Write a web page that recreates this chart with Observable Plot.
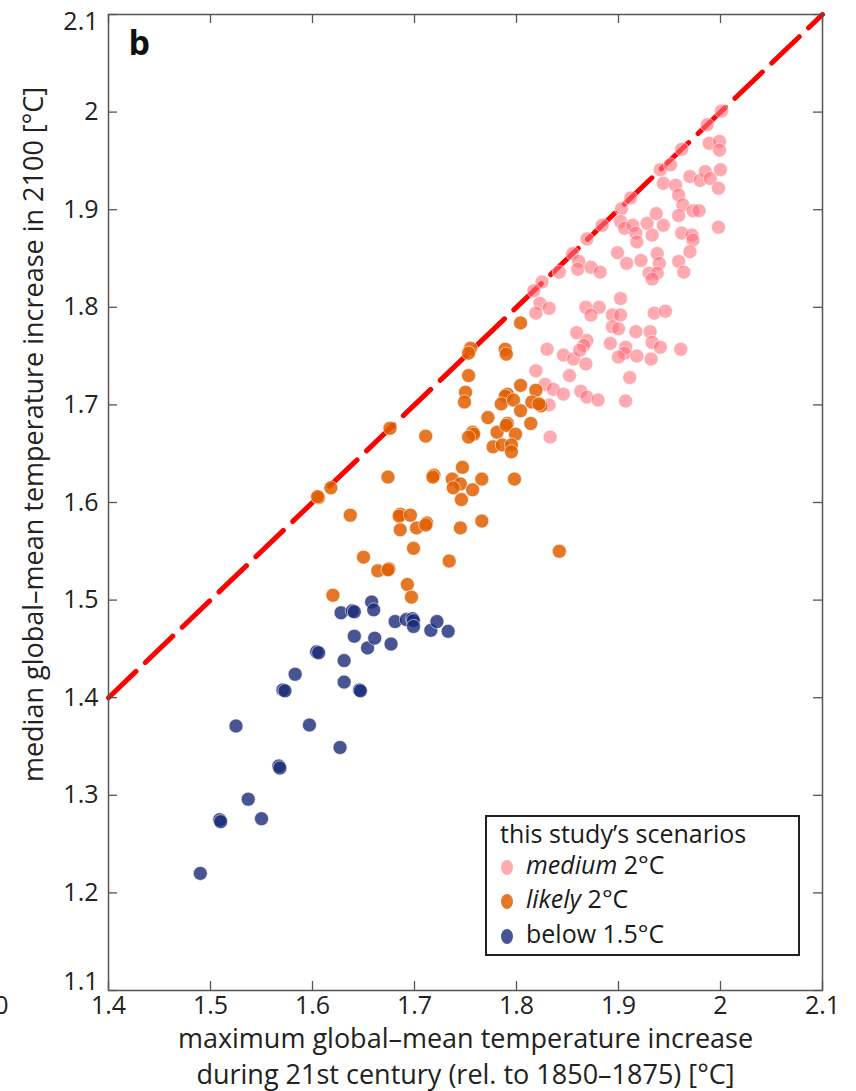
<!DOCTYPE html>
<html>
<head>
<meta charset="utf-8">
<script src="https://cdn.jsdelivr.net/npm/d3@7"></script>
<script src="https://cdn.jsdelivr.net/npm/@observablehq/plot@0.6"></script>
<style>
  html, body { margin: 0; padding: 0; background: #fff; }
  #wrap { position: relative; width: 856px; height: 1091px; overflow: hidden; font-family: "Open Sans", sans-serif; }
  #legend { position: absolute; left: 485px; top: 815px; width: 315px; height: 141px; border: 2px solid #222; background: #fff; color: #1a1a1a; font-size: 25px; line-height: 26px; box-sizing: border-box; }
  #legend .t { position: absolute; left: 13px; top: 3px; white-space: nowrap; }
  #legend .row { position: absolute; left: 14px; white-space: nowrap; }
  #legend .sw { display: inline-block; width: 12px; height: 15px; border-radius: 50%; margin-right: 13px; vertical-align: -1px; }
</style>
</head>
<body>
<div id="wrap"></div>
<script>
// ---- data ----
const xTicks = [1.4, 1.5, 1.6, 1.7, 1.8, 1.9, 2.0, 2.1];
const yTicks = [1.1, 1.2, 1.3, 1.4, 1.5, 1.6, 1.7, 1.8, 1.9, 2.0, 2.1];
const diagonal = [1.4, 2.1];

const below15X = [1.490,1.509,1.510,1.537,1.550,1.525,1.567,1.568,1.597,1.627,1.571,1.573,1.583,1.604,1.606,1.631,1.631,1.646,1.647,1.641,1.654,1.661,1.677,1.628,1.639,1.641,1.658,1.660,1.681,1.692,1.698,1.699,1.699,1.716,1.722,1.733];
const below15Y = [1.220,1.275,1.273,1.296,1.276,1.371,1.330,1.328,1.372,1.349,1.408,1.407,1.424,1.447,1.446,1.438,1.416,1.408,1.407,1.463,1.451,1.461,1.455,1.487,1.489,1.488,1.498,1.490,1.478,1.480,1.481,1.479,1.473,1.469,1.478,1.468];

const likelyX = [1.620,1.693,1.697,1.664,1.675,1.674,1.650,1.734,1.804,1.755,1.753,1.789,1.790,1.753,1.750,1.749,1.804,1.819,1.791,1.789,1.785,1.797,1.804,1.815,1.824,1.822,1.814,1.772,1.757,1.758,1.753,1.781,1.791,1.790,1.799,1.777,1.786,1.795,1.795,1.711,1.676,1.674,1.719,1.718,1.747,1.737,1.745,1.738,1.757,1.766,1.746,1.798,1.618,1.606,1.605,1.637,1.686,1.685,1.696,1.686,1.702,1.712,1.711,1.745,1.766,1.699,1.842];
const likelyY = [1.505,1.516,1.503,1.530,1.532,1.531,1.544,1.540,1.784,1.758,1.753,1.757,1.752,1.730,1.713,1.703,1.720,1.715,1.711,1.709,1.701,1.705,1.694,1.703,1.699,1.701,1.681,1.687,1.672,1.670,1.667,1.672,1.681,1.679,1.670,1.657,1.659,1.659,1.652,1.668,1.676,1.626,1.628,1.626,1.636,1.624,1.619,1.615,1.613,1.624,1.603,1.624,1.615,1.605,1.606,1.587,1.588,1.586,1.587,1.572,1.574,1.579,1.577,1.574,1.581,1.553,1.550];

const mediumX = [2.001,1.987,1.989,1.999,1.999,1.962,1.941,1.951,1.944,1.956,1.959,1.970,1.980,1.985,1.990,2.000,1.998,1.963,1.959,1.973,1.979,1.998,1.912,1.903,1.884,1.902,1.906,1.914,1.917,1.918,1.928,1.937,1.944,1.933,1.962,1.972,1.973,1.970,1.899,1.908,1.922,1.938,1.940,1.930,1.938,1.933,1.959,1.964,1.869,1.855,1.861,1.860,1.873,1.882,1.842,1.825,1.817,1.823,1.832,1.819,1.868,1.881,1.902,1.935,1.946,1.873,1.894,1.902,1.894,1.900,1.859,1.869,1.866,1.830,1.846,1.856,1.862,1.868,1.852,1.892,1.907,1.906,1.900,1.917,1.918,1.931,1.933,1.941,1.932,1.961,1.911,1.907,1.819,1.828,1.836,1.846,1.832,1.863,1.869,1.880,1.833];
const mediumY = [2.001,1.987,1.968,1.970,1.961,1.962,1.941,1.946,1.927,1.925,1.915,1.934,1.930,1.939,1.932,1.941,1.922,1.905,1.894,1.899,1.899,1.882,1.912,1.901,1.884,1.888,1.881,1.884,1.876,1.867,1.886,1.896,1.884,1.874,1.876,1.874,1.869,1.857,1.856,1.845,1.848,1.855,1.845,1.835,1.835,1.829,1.847,1.836,1.870,1.855,1.847,1.839,1.841,1.836,1.836,1.826,1.817,1.804,1.799,1.794,1.800,1.800,1.809,1.794,1.796,1.792,1.792,1.792,1.780,1.778,1.774,1.766,1.761,1.757,1.751,1.747,1.756,1.742,1.730,1.763,1.759,1.753,1.749,1.775,1.750,1.775,1.764,1.759,1.747,1.757,1.728,1.704,1.735,1.721,1.716,1.711,1.700,1.714,1.708,1.705,1.667];

const seriesNames = ["medium 2°C", "likely 2°C", "below 1.5°C"];
const seriesColors = ["#ff6f7c", "#e05f00", "#1c2a78"];
const seriesOpacity = [0.6, 0.85, 0.8];

const xLabel = "maximum global–mean temperature increase\nduring 21st century (rel. to 1850–1875) [°C]";
const yLabel = "median global–mean temperature increase in 2100 [°C]";
const panelLetter = "b";
const legendTitle = "this study’s scenarios";

// ---- build ----
const toPts = (xs, ys) => xs.map((x, i) => ({x, y: ys[i]}));
const groups = [toPts(mediumX, mediumY), toPts(likelyX, likelyY), toPts(below15X, below15Y)];

const W = 856, H = 1091, mL = 108, mR = 34, mT = 14, mB = 101;
const fw = W - mL - mR, fh = H - mT - mB;
const tickLen = 9;
const fmt = d => String(+d.toFixed(1));
const axisColor = "#555";
const tickFont = 25;
const yMid = yTicks.slice(1, -1);

const plot = Plot.plot({
  width: W, height: H,
  marginLeft: mL, marginRight: mR, marginTop: mT, marginBottom: mB,
  x: {domain: [1.4, 2.1]},
  y: {domain: [1.1, 2.1]},
  style: {fontFamily: "Open Sans, sans-serif", fontSize: "25px", color: "#222", background: "white"},
  marks: [
    Plot.line(diagonal, {x: d => d, y: d => d, stroke: "#ff0000", strokeWidth: 5, strokeDasharray: "38,13"}),
    ...groups.map((g, i) => Plot.dot(g, {x: "x", y: "y", r: 7, fill: seriesColors[i], fillOpacity: seriesOpacity[i], stroke: "white", strokeWidth: 0.8, strokeOpacity: 0.7})),
    Plot.frame({stroke: axisColor, strokeWidth: 1.5}),
    Plot.ruleX(xTicks, {x: d => d, insetTop: fh - tickLen, stroke: axisColor, strokeWidth: 1.3}),
    Plot.ruleX(xTicks, {x: d => d, insetBottom: fh - tickLen, stroke: axisColor, strokeWidth: 1.3}),
    Plot.ruleY(yTicks, {y: d => d, insetRight: fw - tickLen, stroke: axisColor, strokeWidth: 1.3}),
    Plot.ruleY(yTicks, {y: d => d, insetLeft: fw - tickLen, stroke: axisColor, strokeWidth: 1.3}),
    Plot.axisX(xTicks, {anchor: "bottom", tickSize: 0, tickPadding: 6, tickFormat: fmt, label: null, fontSize: tickFont, fill: "#222"}),
    Plot.axisY(yMid, {anchor: "left", tickSize: 0, tickPadding: 10, tickFormat: fmt, label: null, fontSize: tickFont, fill: "#222"}),
    Plot.axisY([yTicks[yTicks.length - 1]], {anchor: "left", tickSize: 0, tickPadding: 10, tickFormat: fmt, label: null, fontSize: tickFont, fill: "#222", dy: 7}),
    Plot.axisY([yTicks[0]], {anchor: "left", tickSize: 0, tickPadding: 10, tickFormat: fmt, label: null, fontSize: tickFont, fill: "#222", dy: -9}),
    Plot.text([xLabel], {frameAnchor: "bottom", lineAnchor: "top", dy: 33, lineHeight: 1.3, fontSize: 27, fill: "#222"}),
    Plot.text([yLabel], {frameAnchor: "left", rotate: -90, textAnchor: "middle", lineAnchor: "middle", dx: -74, dy: -68, fontSize: 27, fill: "#222"}),
    Plot.text([panelLetter], {frameAnchor: "top-left", lineAnchor: "top", textAnchor: "start", dx: 20, dy: 16, fontSize: 34, fontWeight: "bold", fill: "#111"}),
    Plot.text(["0"], {frameAnchor: "bottom-left", lineAnchor: "top", textAnchor: "end", dx: -100, dy: 6, fontSize: tickFont, fill: "#222"})
  ]
});

const wrap = document.getElementById("wrap");
wrap.appendChild(plot);

// legend (inside plot area, as in the reference)
const lg = document.createElement("div");
lg.id = "legend";
const t = document.createElement("div");
t.className = "t";
t.textContent = legendTitle;
lg.appendChild(t);
const labelParts = [["medium", " 2°C", true], ["likely", " 2°C", true], ["below 1.5°C", "", false]];
seriesNames.forEach((name, i) => {
  const row = document.createElement("div");
  row.className = "row";
  row.style.top = (33.5 + i * 34.5) + "px";
  const sw = document.createElement("span");
  sw.className = "sw";
  sw.style.background = seriesColors[i];
  sw.style.opacity = seriesOpacity[i];
  row.appendChild(sw);
  const [a, b, ital] = labelParts[i];
  const s1 = document.createElement("span");
  s1.textContent = a;
  if (ital) s1.style.fontStyle = "italic";
  row.appendChild(s1);
  if (b) row.appendChild(document.createTextNode(b));
  lg.appendChild(row);
});
wrap.appendChild(lg);
</script>
</body>
</html>
